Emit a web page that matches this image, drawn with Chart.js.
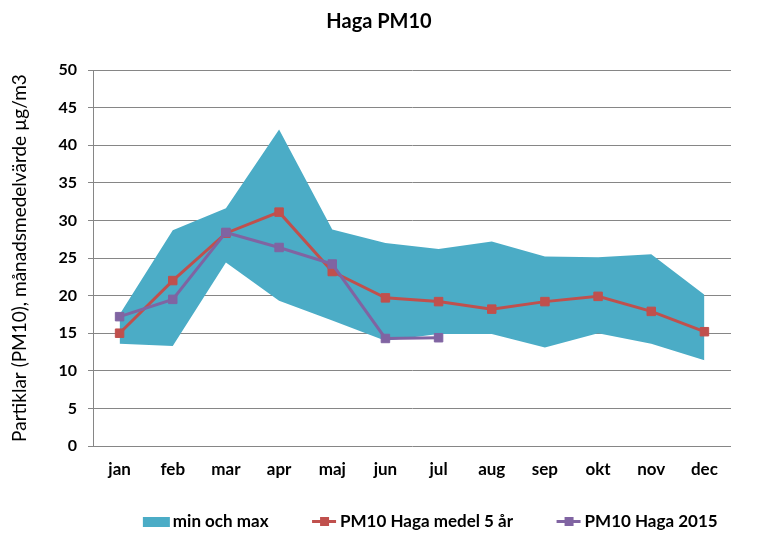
<!DOCTYPE html>
<html>
<head>
<meta charset="utf-8">
<script src="https://cdn.jsdelivr.net/npm/chart.js@4"></script>
<style>
html,body{margin:0;padding:0;background:#fff}
#wrap{width:758px;height:545px}
</style>
</head>
<body>
<div id="wrap"><canvas id="Chart1HTML" width="758" height="545"></canvas></div>
<script>
// data
const MONTHS=["jan","feb","mar","apr","maj","jun","jul","aug","sep","okt","nov","dec"]
const BANDMIN=[13.6,13.3,24.4,19.3,16.7,14.0,14.9,14.9,13.1,15.0,13.6,11.4]
const BANDMAX=[17.5,28.7,31.6,42.1,28.8,27.0,26.2,27.2,25.2,25.1,25.5,20.1]
const MEDEL5=[15.0,22.0,28.3,31.1,23.2,19.7,19.2,18.2,19.2,19.9,17.9,15.2]
const HAGA2015=[17.2,19.5,28.4,26.4,24.2,14.3,14.4,null,null,null,null,null]
const YTICKS=[0,5,10,15,20,25,30,35,40,45,50]

const BAND="#4BACC6",RED="#C0504D",PURPLE="#8064A2",GRID="#868686"
const FONT="Lato, 'DejaVu Sans', sans-serif"

let Chart1

// legend icons: transparent on the left so the gap sits before the icon
const PSW=58
const ICONW=PSW+13
function BoxIcon(){
let c=document.createElement('canvas');c.width=ICONW;c.height=11
let x=c.getContext('2d');x.fillStyle=BAND;x.fillRect(ICONW-28,1,27,10)
return c
}
function LineIcon(col){
let c=document.createElement('canvas');c.width=ICONW;c.height=11
let x=c.getContext('2d')
x.fillStyle=col;x.fillRect(ICONW-26,4,24,3);x.fillRect(ICONW-18,1,9,9)
return c
}

function LoadC1(){
Chart1=new Chart(
document.getElementById('Chart1HTML'),
{
type:'line',
data:{
labels:MONTHS,
datasets:[
{label:"PM10 Haga 2015",data:HAGA2015,borderColor:PURPLE,backgroundColor:PURPLE,borderWidth:3,pointStyle:'rect',pointRadius:6,pointBorderWidth:1,fill:false,spanGaps:false},
{label:"PM10 Haga medel 5 år",data:MEDEL5,borderColor:RED,backgroundColor:RED,borderWidth:3,pointStyle:'rect',pointRadius:6,pointBorderWidth:1,fill:false},
{label:"min och max",data:BANDMAX,borderWidth:0,borderColor:BAND,pointRadius:0,backgroundColor:BAND,fill:'+1'},
{label:"min",data:BANDMIN,borderWidth:0,borderColor:BAND,pointRadius:0,fill:false}
]
},
options:{
responsive:false,
animation:false,
layout:{padding:{left:0,right:0,top:0,bottom:5}},
scales:{
x:{
offset:true,
grid:{display:false},
border:{display:false},
ticks:{color:'#000',font:{family:FONT,size:17,weight:'bold'},padding:5,maxRotation:0},
afterFit:s=>{s.height=62}
},
y:{
min:0,max:50,
afterBuildTicks:s=>{s.ticks=YTICKS.map(v=>({value:v}))},
grid:{color:GRID,lineWidth:1,tickLength:5},
border:{color:GRID,width:1},
ticks:{color:'#000',font:{family:FONT,size:16,weight:'bold'},padding:11},
title:{display:true,text:"Partiklar (PM10), månadsmedelvärde µg/m3",color:'#000',font:{family:FONT,size:19},padding:{top:8,bottom:0}},
afterFit:s=>{s.width=93}
},
y2:{
position:'right',
display:true,
grid:{display:false},
border:{display:false},
ticks:{display:false},
afterFit:s=>{s.width=27}
}
},
plugins:{
filler:{drawTime:'beforeDatasetsDraw'},
title:{display:true,text:"Haga PM10",color:'#000',font:{family:FONT,size:20,weight:'bold'},padding:{top:10,bottom:36}},
legend:{
position:'bottom',
fullSize:false,
labels:{
usePointStyle:true,
pointStyleWidth:PSW,
padding:5,
color:'#000',
font:{family:FONT,size:17,weight:'bold'},
generateLabels:()=>[
{text:"min och max",pointStyle:BoxIcon(),fillStyle:BAND,strokeStyle:BAND,lineWidth:0,hidden:false,datasetIndex:2},
{text:"PM10 Haga medel 5 år",pointStyle:LineIcon(RED),fillStyle:RED,strokeStyle:RED,lineWidth:0,hidden:false,datasetIndex:1},
{text:"PM10 Haga 2015",pointStyle:LineIcon(PURPLE),fillStyle:PURPLE,strokeStyle:PURPLE,lineWidth:0,hidden:false,datasetIndex:0}
]
}
},
tooltip:{enabled:false}
}
}
}
)
}

LoadC1()
</script>
</body>
</html>
